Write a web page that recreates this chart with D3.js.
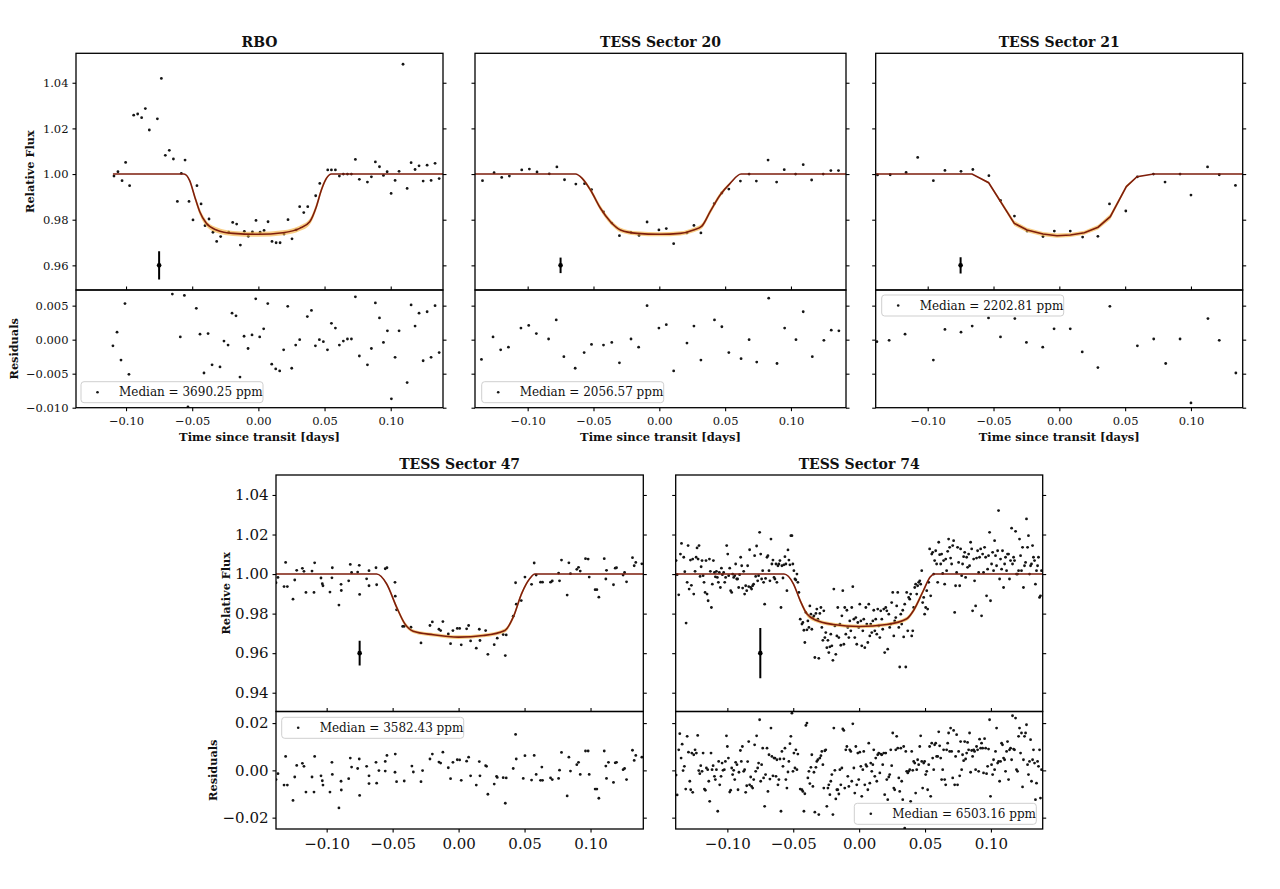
<!DOCTYPE html>
<html>
<head>
<meta charset="utf-8">
<script src="https://cdn.jsdelivr.net/npm/d3@7"></script>
<style>
  body { margin: 0; background: #fff; }
  text { font-family: "DejaVu Serif", serif; }
</style>
</head>
<body>
<div id="fig"></div>
<script>
// ---------- data ----------
const titles = ["RBO", "TESS Sector 20", "TESS Sector 21", "TESS Sector 47", "TESS Sector 74"];
const medianLabels = ["Median = 3690.25 ppm", "Median = 2056.57 ppm", "Median = 2202.81 ppm", "Median = 3582.43 ppm", "Median = 6503.16 ppm"];
const timeTicks = [-0.10, -0.05, 0.00, 0.05, 0.10];
const fluxTicksTop = [0.96, 0.98, 1.00, 1.02, 1.04];
const fluxTicksBottom = [0.94, 0.96, 0.98, 1.00, 1.02, 1.04];
const resTicksTop = [-0.010, -0.005, 0.000, 0.005];
const resTicksBottom = [-0.02, 0.00, 0.02];

// typical error bar per panel: [time, flux, error]
const errBars = [[-0.075, 0.96, 0.0062], [-0.075, 0.96, 0.0034], [-0.075, 0.96, 0.0036], [-0.075, 0.96, 0.0063], [-0.075, 0.96, 0.0127]];

// model curves: [time, flux, band half-width]
const rboModel = [[-0.1099,1,0],[-0.0562,1,0],[-0.0519,0.9971,0.0006],[-0.0481,0.9901,0.0012],[-0.0443,0.9835,0.0014],[-0.0393,0.9784,0.0013],[-0.0317,0.9755,0.0012],[-0.0191,0.9740,0.0011],[0,0.9736,0.0011],[0.0186,0.9743,0.0011],[0.0312,0.9762,0.0012],[0.0388,0.9791,0.0013],[0.0438,0.9857,0.0014],[0.0476,0.9930,0.0012],[0.0514,0.9981,0.0006],[0.0552,1,0],[0.1395,1,0]];
const s20Model = [[-0.1400,1,0],[-0.0636,1,0],[-0.0586,0.9981,0.0005],[-0.0523,0.9930,0.0010],[-0.0447,0.9850,0.0012],[-0.0371,0.9791,0.0011],[-0.0295,0.9755,0.0010],[-0.0169,0.9740,0.0009],[0,0.9736,0.0009],[0.0159,0.9740,0.0009],[0.0260,0.9755,0.0010],[0.0323,0.9772,0.0011],[0.0386,0.9835,0.0012],[0.0462,0.9908,0.0010],[0.0538,0.9959,0.0005],[0.0621,1,0],[0.1418,1,0]];
const s21Model = [[-0.1395,1,0],[-0.0663,1,0],[-0.0537,0.9962,0.0005],[-0.0342,0.9784,0.0011],[-0.0245,0.9755,0.0010],[-0.0124,0.9737,0.0009],[-0.0018,0.9730,0.0009],[0.0084,0.9733,0.0009],[0.0190,0.9743,0.0009],[0.0294,0.9767,0.0010],[0.0387,0.9813,0.0012],[0.0509,0.9945,0.0007],[0.0590,0.9988,0.0002],[0.0716,1,0],[0.1393,1,0]];
const s47Model = [[-0.1384,1,0],[-0.0621,1,0],[-0.0546,0.9951,0.0006],[-0.0470,0.9833,0.0012],[-0.0407,0.9748,0.0011],[-0.0344,0.9711,0.0009],[-0.0192,0.9693,0.0009],[0,0.9681,0.0009],[0.0186,0.9689,0.0009],[0.0351,0.9715,0.0010],[0.0414,0.9782,0.0012],[0.0477,0.9900,0.0011],[0.0540,0.9977,0.0005],[0.0578,1,0],[0.1400,1,0]];
const s74Model = [[-0.1392,1,0],[-0.0570,1,0],[-0.0499,0.9951,0.0006],[-0.0448,0.9867,0.0011],[-0.0397,0.9799,0.0012],[-0.0321,0.9765,0.0010],[-0.0195,0.9745,0.0009],[0,0.9735,0.0009],[0.0210,0.9745,0.0009],[0.0362,0.9774,0.0010],[0.0413,0.9816,0.0012],[0.0488,0.9917,0.0011],[0.0539,0.9985,0.0004],[0.0572,1,0],[0.1393,1,0]];

// observed flux: [time, flux]
const rboFlux = [[-0.1091,0.9991],[-0.1061,1.0010],[-0.1030,0.9971],[-0.1003,1.0051],[-0.0973,0.9949],[-0.0942,1.0258],[-0.0912,1.0263],[-0.0882,1.0247],[-0.0854,1.0287],[-0.0824,1.0193],[-0.0763,1.0242],[-0.0733,1.0419],[-0.0703,1.0082],[-0.0673,1.0104],[-0.0642,1.0066],[-0.0612,0.9880],[-0.0582,1.0003],[-0.0554,1.0061],[-0.0524,0.9880],[-0.0494,0.9799],[-0.0464,0.9949],[-0.0433,0.9869],[-0.0403,0.9774],[-0.0373,0.9803],[-0.0343,0.9745],[-0.0315,0.9705],[-0.0285,0.9726],[-0.0224,0.9745],[-0.0194,0.9788],[-0.0164,0.9781],[-0.0136,0.9689],[-0.0106,0.9749],[-0.0076,0.9727],[-0.0045,0.9746],[-0.0018,0.9797],[0.0013,0.9745],[0.0043,0.9753],[0.0073,0.9791],[0.0103,0.9705],[0.0134,0.9699],[0.0164,0.9699],[0.0194,0.9737],[0.0224,0.9800],[0.0254,0.9716],[0.0285,0.9755],[0.0312,0.9857],[0.0343,0.9831],[0.0373,0.9857],[0.0433,0.9905],[0.0464,0.9959],[0.0524,1.0018],[0.0552,1.0018],[0.0582,1.0018],[0.0612,0.9991],[0.0642,1.0000],[0.0673,1.0000],[0.0703,1.0000],[0.0733,1.0064],[0.0763,0.9977],[0.0824,0.9965],[0.0854,0.9988],[0.0884,1.0053],[0.0915,1.0032],[0.0945,0.9994],[0.0973,1.0010],[0.1003,0.9915],[0.1033,0.9972],[0.1063,1.0012],[0.1093,1.0481],[0.1124,0.9937],[0.1154,1.0050],[0.1184,1.0020],[0.1214,1.0036],[0.1245,0.9969],[0.1275,1.0039],[0.1305,0.9972],[0.1335,1.0047],[0.1366,0.9980]];
const rboRes = [[-0.1099,-0.0009],[-0.1068,0.0011],[-0.1038,-0.0030],[-0.1008,0.0053],[-0.0978,-0.0051],[-0.0650,0.0067],[-0.0590,0.0004],[-0.0559,0.0065],[-0.0532,-0.0099],[-0.0469,0.0046],[-0.0441,0.0008],[-0.0411,-0.0049],[-0.0380,0.0009],[-0.0350,-0.0037],[-0.0290,-0.0040],[-0.0260,-0.0002],[-0.0229,-0.0008],[-0.0199,0.0039],[-0.0169,0.0035],[-0.0139,-0.0055],[-0.0108,0.0005],[-0.0078,-0.0013],[-0.0048,0.0007],[-0.0020,0.0060],[0.0010,0.0004],[0.0040,0.0016],[0.0071,0.0053],[0.0101,-0.0036],[0.0131,-0.0043],[0.0161,-0.0046],[0.0191,-0.0015],[0.0222,0.0049],[0.0252,-0.0042],[0.0282,-0.0008],[0.0312,0.0000],[0.0370,0.0034],[0.0401,0.0043],[0.0431,-0.0009],[0.0461,0.0000],[0.0491,-0.0003],[0.0522,-0.0015],[0.0552,0.0024],[0.0582,0.0017],[0.0612,-0.0008],[0.0642,-0.0002],[0.0673,0.0001],[0.0703,0.0001],[0.0733,0.0063],[0.0763,-0.0024],[0.0824,-0.0037],[0.0854,-0.0013],[0.0884,0.0054],[0.0915,0.0032],[0.0945,-0.0004],[0.0975,0.0013],[0.1005,-0.0087],[0.1033,-0.0026],[0.1063,0.0013],[0.1124,-0.0063],[0.1154,0.0051],[0.1184,0.0020],[0.1214,0.0039],[0.1245,-0.0031],[0.1275,0.0041],[0.1305,-0.0026],[0.1335,0.0050],[0.1366,-0.0019]];

const s20Flux = [[-0.1343,0.9971],[-0.1255,1.0006],[-0.1197,0.9985],[-0.1139,0.9991],[-0.1045,1.0018],[-0.0987,1.0022],[-0.0929,1.0009],[-0.0836,1.0001],[-0.0778,1.0031],[-0.0720,0.9975],[-0.0634,0.9956],[-0.0568,0.9958],[-0.0515,0.9932],[-0.0424,0.9834],[-0.0361,0.9785],[-0.0303,0.9730],[-0.0215,0.9744],[-0.0154,0.9731],[-0.0093,0.9790],[-0.0003,0.9755],[0.0053,0.9761],[0.0109,0.9695],[0.0210,0.9742],[0.0263,0.9775],[0.0316,0.9742],[0.0417,0.9870],[0.0475,0.9917],[0.0528,0.9934],[0.0616,0.9969],[0.0682,1.0000],[0.0737,0.9969],[0.0826,1.0061],[0.0891,0.9965],[0.0949,1.0019],[0.1035,1.0000],[0.1093,1.0041],[0.1157,0.9974],[0.1245,1.0000],[0.1303,1.0015],[0.1361,1.0015]];
const s20Res = [[-0.1351,-0.0029],[-0.1263,0.0004],[-0.1205,-0.0015],[-0.1146,-0.0011],[-0.1051,0.0017],[-0.0992,0.0021],[-0.0934,0.0009],[-0.0841,0.0001],[-0.0783,0.0029],[-0.0725,-0.0025],[-0.0639,-0.0042],[-0.0571,-0.0019],[-0.0515,-0.0007],[-0.0424,-0.0008],[-0.0361,-0.0004],[-0.0303,-0.0034],[-0.0215,0.0001],[-0.0157,-0.0011],[-0.0093,0.0050],[-0.0003,0.0017],[0.0053,0.0022],[0.0109,-0.0046],[0.0210,-0.0005],[0.0263,0.0020],[0.0316,-0.0030],[0.0419,0.0029],[0.0475,0.0019],[0.0528,-0.0019],[0.0621,-0.0028],[0.0682,0.0000],[0.0740,-0.0033],[0.0831,0.0061],[0.0894,-0.0035],[0.0952,0.0017],[0.1038,0.0000],[0.1093,0.0041],[0.1162,-0.0025],[0.1250,-0.0001],[0.1306,0.0014],[0.1364,0.0013]];

const s21Flux = [[-0.1381,0.9996],[-0.1285,0.9997],[-0.1164,1.0007],[-0.1076,1.0073],[-0.0957,0.9971],[-0.0869,1.0016],[-0.0747,1.0012],[-0.0657,1.0020],[-0.0535,0.9993],[-0.0447,0.9884],[-0.0341,0.9816],[-0.0245,0.9750],[-0.0124,0.9726],[-0.0038,0.9750],[0.0083,0.9750],[0.0177,0.9724],[0.0293,0.9727],[0.0381,0.9869],[0.0505,0.9838],[0.0593,0.9988],[0.0715,1.0000],[0.0803,0.9965],[0.0917,1.0000],[0.1000,0.9908],[0.1126,1.0031],[0.1215,0.9997],[0.1338,0.9950]];
const s21Res = [[-0.1386,-0.0003],[-0.1293,-0.0001],[-0.1172,0.0008],[-0.0957,-0.0030],[-0.0869,0.0015],[-0.0747,0.0011],[-0.0662,0.0020],[-0.0538,0.0032],[-0.0447,0.0004],[-0.0338,0.0031],[-0.0250,-0.0004],[-0.0126,-0.0011],[-0.0040,0.0016],[0.0083,0.0016],[0.0174,-0.0018],[0.0293,-0.0041],[0.0384,0.0049],[0.0593,-0.0009],[0.0717,0.0001],[0.0808,-0.0035],[0.0917,0.0001],[0.1000,-0.0093],[0.1129,0.0031],[0.1215,-0.0001],[0.1341,-0.0049]];

const s47Flux = [[-0.1384,0.9956],[-0.1369,0.9983],[-0.1323,0.9937],[-0.1311,1.0059],[-0.1298,0.9937],[-0.1255,0.9873],[-0.1242,0.9970],[-0.1227,1.0019],[-0.1184,1.0029],[-0.1172,1.0014],[-0.1157,0.9907],[-0.1111,1.0015],[-0.1091,1.0057],[-0.1096,0.9907],[-0.1043,0.9980],[-0.1033,0.9951],[-0.1028,0.9941],[-0.0975,0.9909],[-0.0960,0.9981],[-0.0957,1.0032],[-0.0907,0.9843],[-0.0891,0.9948],[-0.0889,0.9917],[-0.0833,0.9966],[-0.0821,1.0049],[-0.0811,1.0008],[-0.0765,1.0010],[-0.0750,0.9897],[-0.0753,1.0044],[-0.0697,0.9976],[-0.0679,1.0017],[-0.0679,0.9941],[-0.0626,1.0032],[-0.0621,0.9946],[-0.0556,1.0027],[-0.0543,1.0032],[-0.0482,0.9958],[-0.0480,0.9888],[-0.0470,0.9819],[-0.0424,0.9735],[-0.0412,0.9736],[-0.0361,0.9731],[-0.0285,0.9652],[-0.0217,0.9740],[-0.0199,0.9758],[-0.0149,0.9721],[-0.0136,0.9714],[-0.0119,0.9760],[-0.0078,0.9697],[-0.0061,0.9648],[-0.0043,0.9714],[-0.0010,0.9725],[0.0008,0.9725],[0.0020,0.9642],[0.0061,0.9723],[0.0076,0.9740],[0.0091,0.9662],[0.0134,0.9625],[0.0157,0.9721],[0.0162,0.9664],[0.0205,0.9714],[0.0222,0.9594],[0.0270,0.9643],[0.0293,0.9676],[0.0338,0.9694],[0.0354,0.9588],[0.0361,0.9692],[0.0414,0.9787],[0.0432,0.9956],[0.0437,0.9848],[0.0475,0.9866],[0.0503,0.9985],[0.0553,0.9948],[0.0573,1.0056],[0.0588,0.9995],[0.0621,0.9959],[0.0636,0.9959],[0.0697,0.9959],[0.0710,0.9965],[0.0758,1.0005],[0.0765,0.9966],[0.0780,1.0071],[0.0823,0.9894],[0.0836,1.0057],[0.0848,1.0002],[0.0896,1.0024],[0.0909,1.0034],[0.0922,1.0015],[0.0962,1.0078],[0.0982,1.0076],[0.0990,0.9985],[0.1035,0.9921],[0.1048,0.9921],[0.1063,0.9883],[0.1104,1.0078],[0.1116,0.9975],[0.1121,1.0019],[0.1174,0.9946],[0.1187,1.0030],[0.1197,1.0032],[0.1247,0.9995],[0.1258,1.0008],[0.1273,0.9961],[0.1318,1.0083],[0.1331,1.0042],[0.1343,1.0059],[0.1389,1.0052]];
const s47Res = [[-0.1384,-0.0039],[-0.1369,-0.0014],[-0.1323,-0.0062],[-0.1311,0.0059],[-0.1298,-0.0062],[-0.1255,-0.0127],[-0.1242,-0.0028],[-0.1227,0.0021],[-0.1184,0.0030],[-0.1172,0.0017],[-0.1157,-0.0092],[-0.1111,-0.0028],[-0.1091,0.0059],[-0.1096,-0.0092],[-0.1043,-0.0023],[-0.1033,-0.0044],[-0.1028,-0.0062],[-0.0975,-0.0092],[-0.0960,0.0034],[-0.0957,-0.0017],[-0.0907,-0.0159],[-0.0891,-0.0046],[-0.0889,-0.0083],[-0.0833,-0.0035],[-0.0821,0.0052],[-0.0811,0.0014],[-0.0765,0.0008],[-0.0750,-0.0106],[-0.0753,0.0048],[-0.0697,0.0017],[-0.0679,-0.0056],[-0.0679,-0.0023],[-0.0626,0.0034],[-0.0621,-0.0054],[-0.0604,-0.0001],[-0.0556,0.0038],[-0.0543,0.0063],[-0.0556,-0.0003],[-0.0482,-0.0008],[-0.0480,0.0069],[-0.0470,-0.0048],[-0.0412,-0.0045],[-0.0354,0.0018],[-0.0343,-0.0007],[-0.0285,-0.0048],[-0.0273,-0.0001],[-0.0217,0.0048],[-0.0199,0.0069],[-0.0149,0.0035],[-0.0136,0.0031],[-0.0119,0.0077],[-0.0078,0.0011],[-0.0061,-0.0035],[-0.0043,0.0034],[-0.0010,0.0045],[0.0008,0.0044],[0.0020,-0.0042],[0.0061,0.0039],[0.0076,0.0056],[0.0091,-0.0023],[0.0134,-0.0062],[0.0157,0.0037],[0.0162,-0.0023],[0.0205,0.0020],[0.0212,0.0017],[0.0222,-0.0101],[0.0270,-0.0058],[0.0288,-0.0025],[0.0293,-0.0030],[0.0338,-0.0031],[0.0354,-0.0139],[0.0361,-0.0032],[0.0414,0.0008],[0.0432,0.0152],[0.0437,0.0048],[0.0490,-0.0034],[0.0503,0.0062],[0.0553,-0.0041],[0.0573,0.0063],[0.0588,-0.0017],[0.0621,-0.0042],[0.0636,-0.0042],[0.0631,0.0014],[0.0697,-0.0032],[0.0710,-0.0039],[0.0758,-0.0034],[0.0765,0.0001],[0.0780,0.0076],[0.0823,-0.0108],[0.0836,0.0056],[0.0848,-0.0003],[0.0896,0.0024],[0.0909,0.0034],[0.0922,-0.0017],[0.0962,0.0082],[0.0982,0.0082],[0.0990,-0.0017],[0.1035,-0.0079],[0.1048,-0.0079],[0.1063,-0.0118],[0.1104,0.0082],[0.1116,0.0018],[0.1121,-0.0034],[0.1136,0.0034],[0.1174,-0.0051],[0.1187,0.0032],[0.1197,0.0034],[0.1247,0.0003],[0.1258,0.0008],[0.1273,-0.0039],[0.1318,0.0085],[0.1331,0.0042],[0.1343,0.0063],[0.1389,0.0056]];

const s74Flux = [[-0.1389,1.0068],[-0.1381,0.9997],[-0.1369,0.9895],[-0.1356,1.0101],[-0.1348,1.0155],[-0.1331,1.0085],[-0.1323,1.0012],[-0.1313,0.9752],[-0.1305,0.9958],[-0.1298,1.0144],[-0.1290,0.9924],[-0.1280,1.0071],[-0.1273,0.9943],[-0.1263,1.0076],[-0.1255,0.9899],[-0.1245,1.0014],[-0.1237,1.0085],[-0.1230,1.0132],[-0.1222,1.0076],[-0.1215,1.0144],[-0.1207,0.9988],[-0.1199,1.0037],[-0.1192,1.0068],[-0.1184,0.9992],[-0.1177,0.9958],[-0.1169,0.9907],[-0.1162,1.0068],[-0.1154,0.9899],[-0.1146,0.9865],[-0.1136,1.0076],[-0.1129,1.0014],[-0.1121,0.9831],[-0.1114,0.9949],[-0.1106,1.0068],[-0.1098,1.0008],[-0.1091,0.9986],[-0.1083,1.0014],[-0.1076,0.9983],[-0.1068,0.9958],[-0.1061,1.0008],[-0.1053,0.9932],[-0.1045,1.0030],[-0.1038,0.9997],[-0.1028,1.0008],[-0.1020,0.9958],[-0.1013,0.9983],[-0.1005,1.0144],[-0.0997,1.0101],[-0.0990,0.9992],[-0.0982,1.0030],[-0.0975,0.9916],[-0.0967,0.9907],[-0.0960,1.0000],[-0.0952,0.9983],[-0.0944,0.9992],[-0.0937,1.0051],[-0.0929,0.9975],[-0.0922,0.9975],[-0.0914,0.9932],[-0.0907,0.9997],[-0.0899,1.0085],[-0.0891,1.0042],[-0.0884,0.9929],[-0.0876,1.0014],[-0.0869,0.9899],[-0.0861,0.9941],[-0.0853,0.9916],[-0.0846,1.0042],[-0.0838,0.9937],[-0.0831,1.0123],[-0.0823,0.9932],[-0.0816,0.9924],[-0.0808,0.9941],[-0.0801,0.9949],[-0.0793,1.0093],[-0.0785,0.9988],[-0.0778,1.0142],[-0.0770,0.9966],[-0.0763,0.9992],[-0.0755,1.0211],[-0.0747,1.0101],[-0.0740,0.9975],[-0.0732,1.0017],[-0.0725,0.9958],[-0.0717,0.9848],[-0.0710,0.9978],[-0.0699,1.0085],[-0.0692,1.0093],[-0.0684,1.0017],[-0.0677,0.9966],[-0.0669,1.0177],[-0.0662,1.0051],[-0.0654,1.0071],[-0.0646,0.9983],[-0.0639,0.9975],[-0.0631,1.0051],[-0.0624,0.9958],[-0.0616,1.0042],[-0.0609,1.0051],[-0.0601,1.0068],[-0.0593,0.9831],[-0.0586,1.0042],[-0.0578,0.9980],[-0.0571,1.0047],[-0.0563,1.0088],[-0.0556,1.0051],[-0.0548,0.9916],[-0.0540,1.0122],[-0.0533,1.0071],[-0.0525,1.0047],[-0.0518,1.0194],[-0.0510,1.0194],[-0.0503,1.0051],[-0.0495,1.0017],[-0.0487,0.9975],[-0.0480,0.9970],[-0.0472,1.0000],[-0.0465,0.9958],[-0.0457,0.9907],
[-0.0447,0.9772],[-0.0434,0.9747],[-0.0427,0.9755],[-0.0419,0.9716],[-0.0412,0.9654],[-0.0404,0.9806],[-0.0396,0.9718],[-0.0389,0.9763],[-0.0381,0.9730],[-0.0374,0.9839],[-0.0366,0.9797],[-0.0359,0.9721],[-0.0351,0.9780],[-0.0343,0.9789],[-0.0336,0.9578],[-0.0328,0.9801],[-0.0321,0.9823],[-0.0313,0.9772],[-0.0306,0.9574],[-0.0298,0.9801],[-0.0290,0.9831],[-0.0283,0.9730],[-0.0275,0.9665],[-0.0268,0.9814],[-0.0260,0.9679],[-0.0253,0.9704],[-0.0245,0.9628],[-0.0237,0.9665],[-0.0230,0.9603],[-0.0222,0.9632],[-0.0215,0.9696],[-0.0207,0.9637],[-0.0199,0.9564],[-0.0192,0.9924],[-0.0184,0.9738],[-0.0177,0.9594],[-0.0169,0.9687],[-0.0162,0.9831],[-0.0154,0.9679],[-0.0146,0.9747],[-0.0139,0.9640],[-0.0131,0.9789],[-0.0124,0.9916],[-0.0116,0.9645],[-0.0109,0.9831],[-0.0101,0.9696],[-0.0093,0.9817],[-0.0086,0.9730],[-0.0078,0.9679],[-0.0071,0.9763],[-0.0063,0.9713],[-0.0056,0.9831],[-0.0048,0.9936],[-0.0040,0.9772],[-0.0033,0.9679],[-0.0025,0.9780],[-0.0018,0.9645],[-0.0010,0.9755],[-0.0003,0.9730],[0.0005,0.9848],[0.0013,0.9763],[0.0020,0.9637],[0.0028,0.9713],[0.0035,0.9772],[0.0043,0.9628],[0.0051,0.9831],[0.0058,0.9747],[0.0066,0.9654],[0.0073,0.9848],[0.0081,0.9687],[0.0088,0.9747],[0.0096,0.9704],[0.0104,0.9763],[0.0111,0.9817],[0.0119,0.9713],[0.0126,0.9772],[0.0134,0.9696],[0.0141,0.9823],[0.0149,0.9738],[0.0157,0.9679],[0.0164,0.9814],[0.0172,0.9772],[0.0179,0.9721],[0.0187,0.9823],[0.0194,0.9603],[0.0202,0.9831],[0.0210,0.9814],[0.0217,0.9620],[0.0225,0.9797],[0.0232,0.9730],[0.0240,0.9747],[0.0247,0.9856],[0.0255,0.9907],[0.0263,0.9687],[0.0270,0.9763],[0.0278,0.9780],[0.0285,0.9839],[0.0293,0.9907],[0.0301,0.9730],[0.0308,0.9530],[0.0316,0.9797],[0.0323,0.9747],[0.0331,0.9817],[0.0338,0.9682],[0.0346,0.9848],[0.0354,0.9530],[0.0361,0.9907],[0.0369,0.9713],[0.0376,0.9882],[0.0384,0.9873],[0.0391,0.9899],[0.0399,0.9687],[0.0407,0.9713],[0.0414,0.9831],[0.0422,0.9932],[0.0429,0.9949],[0.0437,0.9899],[0.0444,0.9941],[0.0452,0.9958],[0.0460,0.9966],[0.0467,0.9949],[0.0475,1.0017],[0.0482,0.9856],[0.0490,0.9882],[0.0497,0.9797],[0.0505,0.9831],
[0.0513,0.9916],[0.0520,0.9823],[0.0528,0.9958],[0.0535,1.0127],[0.0543,0.9890],[0.0551,1.0101],[0.0558,1.0110],[0.0566,1.0000],[0.0573,1.0068],[0.0581,1.0118],[0.0588,1.0051],[0.0596,0.9958],[0.0604,1.0161],[0.0611,1.0098],[0.0619,1.0051],[0.0626,1.0101],[0.0634,1.0003],[0.0641,1.0068],[0.0649,0.9949],[0.0657,1.0076],[0.0664,1.0017],[0.0672,1.0115],[0.0679,1.0177],[0.0687,1.0135],[0.0694,1.0081],[0.0702,1.0051],[0.0710,1.0144],[0.0717,1.0169],[0.0725,0.9806],[0.0732,0.9941],[0.0740,1.0008],[0.0747,1.0135],[0.0755,1.0059],[0.0763,0.9941],[0.0770,1.0127],[0.0778,0.9992],[0.0785,1.0051],[0.0793,1.0088],[0.0801,1.0110],[0.0808,0.9983],[0.0816,1.0085],[0.0823,1.0034],[0.0831,1.0101],[0.0838,1.0042],[0.0846,1.0161],[0.0854,1.0127],[0.0861,0.9814],[0.0869,1.0076],[0.0876,0.9966],[0.0884,0.9839],[0.0891,1.0081],[0.0899,1.0118],[0.0907,1.0008],[0.0914,1.0085],[0.0922,1.0127],[0.0929,0.9789],[0.0937,1.0101],[0.0944,1.0008],[0.0952,1.0135],[0.0960,1.0085],[0.0967,0.9890],[0.0975,1.0025],[0.0982,1.0093],[0.0990,1.0211],[0.0997,0.9865],[0.1005,1.0051],[0.1013,1.0110],[0.1020,1.0017],[0.1028,1.0169],[0.1035,1.0093],[0.1043,1.0042],[0.1051,1.0118],[0.1058,1.0321],[0.1066,0.9975],[0.1073,1.0076],[0.1081,1.0025],[0.1088,1.0118],[0.1096,0.9932],[0.1104,1.0051],[0.1111,1.0085],[0.1119,1.0017],[0.1126,1.0101],[0.1134,1.0101],[0.1141,0.9975],[0.1149,1.0068],[0.1157,1.0232],[0.1164,1.0051],[0.1172,1.0085],[0.1179,1.0068],[0.1187,1.0216],[0.1194,1.0000],[0.1202,1.0000],[0.1210,1.0017],[0.1217,1.0177],[0.1225,1.0093],[0.1232,1.0017],[0.1240,1.0135],[0.1247,0.9932],[0.1255,1.0042],[0.1263,1.0059],[0.1270,1.0279],[0.1278,1.0135],[0.1285,1.0194],[0.1293,1.0000],[0.1301,1.0042],[0.1308,1.0051],[0.1316,1.0144],[0.1323,1.0085],[0.1331,1.0068],[0.1338,0.9949],[0.1346,1.0017],[0.1354,1.0042],[0.1361,1.0085],[0.1369,0.9882],[0.1376,0.9890],[0.1384,1.0017]];
const s74Res = [[-0.1389,-0.0020],[-0.1381,-0.0104],[-0.1369,0.0087],[-0.1361,0.0155],[-0.1351,0.0052],[-0.1343,0.0111],[-0.1336,-0.0001],[-0.1326,0.0017],[-0.1316,-0.0079],[-0.1305,0.0144],[-0.1295,0.0077],[-0.1285,-0.0046],[-0.1278,-0.0082],[-0.1270,0.0073],[-0.1263,-0.0093],[-0.1255,0.0066],[-0.1245,0.0087],[-0.1235,0.0073],[-0.1225,0.0148],[-0.1217,-0.0001],[-0.1209,-0.0014],[-0.1202,0.0020],[-0.1192,-0.0004],[-0.1184,0.0073],[-0.1174,-0.0079],[-0.1167,-0.0084],[-0.1159,0.0010],[-0.1149,0.0003],[-0.1141,-0.0046],[-0.1134,-0.0131],[-0.1124,0.0073],[-0.1116,0.0003],[-0.1108,0.0020],[-0.1098,-0.0025],[-0.1091,-0.0039],[-0.1083,0.0003],[-0.1073,-0.0173],[-0.1066,0.0038],[-0.1058,-0.0061],[-0.1048,-0.0025],[-0.1040,0.0031],[-0.1033,0.0000],[-0.1023,0.0003],[-0.1015,0.0038],[-0.1007,0.0146],[-0.1000,0.0101],[-0.0992,0.0052],[-0.0982,-0.0092],[-0.0975,-0.0084],[-0.0967,0.0010],[-0.0960,-0.0018],[-0.0952,0.0000],[-0.0944,-0.0039],[-0.0937,0.0034],[-0.0927,0.0024],[-0.0919,-0.0082],[-0.0912,-0.0008],[-0.0901,0.0084],[-0.0894,0.0038],[-0.0886,0.0101],[-0.0876,-0.0004],[-0.0869,0.0003],[-0.0861,-0.0093],[-0.0853,-0.0065],[-0.0846,0.0037],[-0.0838,0.0122],[-0.0831,-0.0061],[-0.0823,-0.0028],[-0.0816,-0.0068],[-0.0808,-0.0075],[-0.0800,-0.0039],[-0.0793,0.0108],[-0.0785,-0.0004],[-0.0778,0.0146],[-0.0770,0.0010],[-0.0763,0.0031],[-0.0755,0.0214],[-0.0747,-0.0046],[-0.0740,0.0024],[-0.0732,0.0094],[-0.0725,-0.0032],[-0.0717,-0.0152],[-0.0710,-0.0018],[-0.0699,0.0094],[-0.0692,-0.0089],[-0.0684,0.0066],[-0.0677,-0.0037],[-0.0669,0.0179],[-0.0662,0.0059],[-0.0654,-0.0023],[-0.0646,0.0052],[-0.0639,0.0052],[-0.0631,-0.0025],[-0.0624,0.0045],[-0.0616,-0.0061],[-0.0609,-0.0039],[-0.0601,0.0048],[-0.0593,-0.0173],[-0.0586,0.0080],[-0.0578,0.0017],[-0.0571,0.0049],[-0.0563,0.0094],[-0.0556,-0.0039],[-0.0548,-0.0075],[-0.0540,-0.0007],[-0.0533,0.0038],[-0.0525,0.0113],[-0.0518,0.0144],[-0.0510,0.0242],[-0.0502,-0.0004],[-0.0495,0.0073],[-0.0487,0.0010],[-0.0480,0.0087],[-0.0472,0.0003],[-0.0465,0.0069],
[-0.0447,-0.0079],[-0.0434,-0.0082],[-0.0427,-0.0089],[-0.0419,-0.0173],[-0.0412,-0.0099],[-0.0404,0.0190],[-0.0396,0.0200],[-0.0389,-0.0032],[-0.0381,-0.0004],[-0.0374,-0.0056],[-0.0366,0.0013],[-0.0359,0.0066],[-0.0351,-0.0068],[-0.0343,-0.0008],[-0.0336,-0.0177],[-0.0328,0.0013],[-0.0321,0.0038],[-0.0313,0.0045],[-0.0306,-0.0187],[-0.0298,0.0052],[-0.0290,0.0062],[-0.0283,0.0080],[-0.0275,0.0024],[-0.0268,-0.0075],[-0.0260,0.0083],[-0.0253,0.0087],[-0.0245,-0.0152],[-0.0237,-0.0075],[-0.0230,-0.0061],[-0.0222,-0.0103],[-0.0215,-0.0046],[-0.0207,-0.0018],[-0.0199,-0.0187],[-0.0192,0.0179],[-0.0184,0.0000],[-0.0177,-0.0121],[-0.0169,-0.0082],[-0.0162,-0.0082],[-0.0154,-0.0100],[-0.0146,0.0003],[-0.0139,-0.0061],[-0.0131,0.0010],[-0.0124,0.0175],[-0.0116,0.0169],[-0.0109,-0.0075],[-0.0101,0.0087],[-0.0093,0.0101],[-0.0086,-0.0025],[-0.0078,-0.0068],[-0.0071,0.0087],[-0.0063,0.0080],[-0.0056,-0.0046],[-0.0048,0.0197],[-0.0040,0.0010],[-0.0033,-0.0096],[-0.0025,0.0101],[-0.0018,-0.0061],[-0.0010,0.0073],[-0.0003,-0.0039],[0.0005,0.0077],[0.0013,0.0017],[0.0020,-0.0110],[0.0028,0.0003],[0.0035,0.0080],[0.0043,-0.0061],[0.0051,0.0024],[0.0058,0.0017],[0.0066,-0.0082],[0.0073,0.0115],[0.0081,-0.0054],[0.0088,0.0031],[0.0096,-0.0004],[0.0104,0.0024],[0.0111,0.0087],[0.0119,-0.0025],[0.0126,0.0052],[0.0134,-0.0046],[0.0141,0.0066],[0.0149,0.0073],[0.0157,-0.0011],[0.0164,0.0069],[0.0172,0.0066],[0.0179,0.0024],[0.0187,0.0073],[0.0194,-0.0103],[0.0202,0.0073],[0.0210,-0.0039],[0.0217,-0.0124],[0.0225,-0.0028],[0.0232,-0.0018],[0.0240,0.0087],[0.0247,0.0020],[0.0255,0.0158],[0.0263,-0.0075],[0.0270,-0.0082],[0.0278,0.0087],[0.0285,0.0144],[0.0293,0.0094],[0.0301,-0.0032],[0.0308,-0.0089],[0.0316,0.0094],[0.0323,-0.0046],[0.0331,-0.0124],[0.0338,0.0101],[0.0346,-0.0244],[0.0354,0.0080],[0.0361,-0.0004],[0.0369,-0.0011],[0.0376,-0.0004],[0.0384,0.0003],[0.0391,-0.0131],[0.0399,0.0080],[0.0407,0.0000],[0.0414,0.0038],[0.0422,0.0031],[0.0429,-0.0096],[0.0437,0.0003],[0.0444,0.0045],[0.0452,0.0024],[0.0460,0.0101],[0.0467,0.0146],[0.0475,0.0038],[0.0482,-0.0075],[0.0490,0.0031],[0.0497,0.0038],[0.0505,-0.0018],
[0.0513,-0.0004],[0.0520,-0.0082],[0.0528,0.0024],[0.0535,0.0101],[0.0543,-0.0110],[0.0551,0.0115],[0.0558,0.0052],[0.0566,0.0003],[0.0573,0.0108],[0.0581,0.0115],[0.0588,0.0059],[0.0596,0.0059],[0.0604,0.0163],[0.0611,0.0104],[0.0619,0.0052],[0.0626,-0.0039],[0.0634,0.0003],[0.0641,0.0087],[0.0649,-0.0039],[0.0657,-0.0061],[0.0664,0.0087],[0.0672,0.0115],[0.0679,0.0158],[0.0687,0.0080],[0.0694,0.0179],[0.0702,0.0080],[0.0710,-0.0032],[0.0717,0.0169],[0.0725,-0.0061],[0.0732,0.0059],[0.0740,0.0151],[0.0747,-0.0061],[0.0755,0.0080],[0.0763,-0.0023],[0.0770,0.0122],[0.0778,0.0003],[0.0785,0.0066],[0.0793,0.0041],[0.0801,0.0122],[0.0808,0.0048],[0.0816,0.0073],[0.0823,0.0118],[0.0831,0.0087],[0.0838,0.0158],[0.0846,-0.0008],[0.0854,0.0084],[0.0861,0.0059],[0.0869,0.0087],[0.0876,0.0080],[0.0884,0.0003],[0.0891,0.0101],[0.0899,0.0087],[0.0907,-0.0004],[0.0914,0.0132],[0.0922,0.0094],[0.0929,0.0115],[0.0937,0.0094],[0.0944,-0.0011],[0.0952,0.0134],[0.0960,0.0094],[0.0967,-0.0014],[0.0975,0.0017],[0.0982,0.0090],[0.0990,0.0214],[0.0997,-0.0110],[0.1005,0.0024],[0.1013,-0.0018],[0.1020,0.0045],[0.1028,0.0003],[0.1035,0.0080],[0.1043,0.0179],[0.1051,0.0031],[0.1058,0.0038],[0.1066,-0.0046],[0.1073,0.0038],[0.1081,0.0115],[0.1088,0.0108],[0.1096,0.0052],[0.1104,0.0045],[0.1111,-0.0004],[0.1119,0.0080],[0.1126,0.0122],[0.1134,-0.0039],[0.1141,0.0087],[0.1149,0.0094],[0.1157,0.0045],[0.1164,0.0231],[0.1172,0.0090],[0.1179,0.0087],[0.1187,0.0221],[0.1194,0.0003],[0.1202,-0.0004],[0.1210,0.0144],[0.1217,0.0179],[0.1225,0.0073],[0.1232,0.0158],[0.1240,-0.0070],[0.1247,0.0045],[0.1255,0.0144],[0.1263,0.0158],[0.1270,0.0193],[0.1278,0.0024],[0.1285,-0.0018],[0.1293,0.0038],[0.1301,0.0130],[0.1308,-0.0046],[0.1316,0.0045],[0.1323,0.0087],[0.1331,0.0031],[0.1338,-0.0124],[0.1346,-0.0054],[0.1354,0.0038],[0.1361,0.0017],[0.1369,0.0087],[0.1376,-0.0117],[0.1384,0.0003]];

// ---------- layout ----------
const topRow = { top: 53.3, div: 290, bot: 407.7, fDom: [0.9492, 1.0529], rDom: [-0.010, 0.0073],
  fTicks: fluxTicksTop, rTicks: resTicksTop, rFmt: ".3f", tickFont: 11.5, dot: 1.4 };
const botRow = { top: 475, div: 711.5, bot: 829, fDom: [0.9305, 1.0501], rDom: [-0.0248, 0.0249],
  fTicks: fluxTicksBottom, rTicks: resTicksBottom, rFmt: ".2f", tickFont: 15, dot: 1.4 };

const panels = [
  Object.assign({}, topRow, { x0: 76, x1: 443, xDom: [-0.1378, 0.1395], flux: rboFlux, res: rboRes, model: rboModel, curve: d3.curveMonotoneX, yLabels: true, xLabel: true, legend: [81, 381.7] }),
  Object.assign({}, topRow, { x0: 475, x1: 846, xDom: [-0.1400, 0.1418], flux: s20Flux, res: s20Res, model: s20Model, curve: d3.curveMonotoneX, yLabels: false, xLabel: true, legend: [481.7, 381.7] }),
  Object.assign({}, topRow, { x0: 875.7, x1: 1242.7, xDom: [-0.1395, 0.1393], flux: s21Flux, res: s21Res, model: s21Model, curve: d3.curveLinear, yLabels: false, xLabel: true, legend: [881.7, 295] }),
  Object.assign({}, botRow, { x0: 276, x1: 643.3, xDom: [-0.1384, 0.1400], flux: s47Flux, res: s47Res, model: s47Model, curve: d3.curveMonotoneX, yLabels: true, xLabel: false, legend: [281.7, 717.3] }),
  Object.assign({}, botRow, { x0: 675.7, x1: 1042.7, xDom: [-0.1392, 0.1393], flux: s74Flux, res: s74Res, model: s74Model, curve: d3.curveMonotoneX, yLabels: false, xLabel: false, legend: [854.3, 803.3] })
];

const svg = d3.select("#fig").append("svg")
  .attr("width", 1280)
  .attr("height", 889)
  .style("background", "#fff");
const defs = svg.append("defs");

function styleAxis(sel, size) {
  sel.select(".domain").remove();
  sel.selectAll("line").attr("stroke", "#000").attr("stroke-width", 1.1);
  sel.selectAll("text").attr("font-size", size).attr("font-family", "DejaVu Serif, serif").attr("fill", "#111");
}

panels.forEach(function(p, i) {
  const x = d3.scaleLinear().domain(p.xDom).range([p.x0, p.x1]);
  const yF = d3.scaleLinear().domain(p.fDom).range([p.div, p.top]);
  const yR = d3.scaleLinear().domain(p.rDom).range([p.bot, p.div]);
  const g = svg.append("g");
  const w = p.x1 - p.x0;

  defs.append("clipPath").attr("id", "ct" + i).append("rect")
    .attr("x", p.x0).attr("y", p.top).attr("width", w).attr("height", p.div - p.top);
  defs.append("clipPath").attr("id", "cb" + i).append("rect")
    .attr("x", p.x0).attr("y", p.div).attr("width", w).attr("height", p.bot - p.div);

  // ---- flux panel ----
  const top = g.append("g").attr("clip-path", `url(#ct${i})`);
  top.selectAll("circle.pt")
    .data(p.flux)
    .join("circle")
      .attr("class", "pt")
      .attr("cx", d => x(d[0]))
      .attr("cy", d => yF(d[1]))
      .attr("r", p.dot)
      .attr("fill", "#151515");

  top.append("path")
    .datum(p.model)
    .attr("d", d3.area().x(d => x(d[0])).y0(d => yF(d[1] - d[2])).y1(d => yF(d[1] + d[2])).curve(p.curve))
    .attr("fill", "#f6b444")
    .attr("opacity", 0.65);
  top.append("path")
    .datum(p.model)
    .attr("d", d3.line().x(d => x(d[0])).y(d => yF(d[1])).curve(p.curve))
    .attr("fill", "none")
    .attr("stroke", "#7e1e0c")
    .attr("stroke-width", 1.6);

  // typical error bar
  const eb = errBars[i];
  top.append("line")
    .attr("x1", x(eb[0])).attr("x2", x(eb[0]))
    .attr("y1", yF(eb[1] - eb[2])).attr("y2", yF(eb[1] + eb[2]))
    .attr("stroke", "#000").attr("stroke-width", 2);
  top.append("circle").attr("cx", x(eb[0])).attr("cy", yF(eb[1])).attr("r", 2.3).attr("fill", "#000");

  // ---- residual panel ----
  const bot = g.append("g").attr("clip-path", `url(#cb${i})`);
  bot.selectAll("circle.pt")
    .data(p.res)
    .join("circle")
      .attr("class", "pt")
      .attr("cx", d => x(d[0]))
      .attr("cy", d => yR(d[1]))
      .attr("r", p.dot)
      .attr("fill", "#151515");

  // ---- axes ----
  const fmtF = d3.format(".2f"), fmtR = d3.format(p.rFmt), fmtX = d3.format(".2f");
  g.append("g").attr("transform", `translate(${p.x0},0)`)
    .call(d3.axisLeft(yF).tickValues(p.fTicks).tickSize(3.5).tickPadding(4).tickFormat(p.yLabels ? fmtF : ""))
    .call(s => styleAxis(s, p.tickFont));
  g.append("g").attr("transform", `translate(${p.x1},0)`)
    .call(d3.axisRight(yF).tickValues(p.fTicks).tickSize(3.5).tickFormat(""))
    .call(s => styleAxis(s, p.tickFont));
  g.append("g").attr("transform", `translate(${p.x0},0)`)
    .call(d3.axisLeft(yR).tickValues(p.rTicks).tickSize(3.5).tickPadding(4).tickFormat(p.yLabels ? fmtR : ""))
    .call(s => styleAxis(s, p.tickFont));
  g.append("g").attr("transform", `translate(${p.x1},0)`)
    .call(d3.axisRight(yR).tickValues(p.rTicks).tickSize(3.5).tickFormat(""))
    .call(s => styleAxis(s, p.tickFont));
  g.append("g").attr("transform", `translate(0,${p.div})`)
    .call(d3.axisTop(x).tickValues(timeTicks).tickSize(3.5).tickFormat(""))
    .call(s => styleAxis(s, p.tickFont));
  g.append("g").attr("transform", `translate(0,${p.bot})`)
    .call(d3.axisBottom(x).tickValues(timeTicks).tickSize(3.5).tickPadding(6).tickFormat(fmtX))
    .call(s => styleAxis(s, p.tickFont));

  // frames
  g.append("rect").attr("x", p.x0).attr("y", p.top).attr("width", w).attr("height", p.div - p.top)
    .attr("fill", "none").attr("stroke", "#000").attr("stroke-width", 1.3);
  g.append("rect").attr("x", p.x0).attr("y", p.div).attr("width", w).attr("height", p.bot - p.div)
    .attr("fill", "none").attr("stroke", "#000").attr("stroke-width", 1.3);

  // legend
  const lg = g.append("g").attr("transform", `translate(${p.legend[0]},${p.legend[1]})`);
  lg.append("rect").attr("width", 182).attr("height", 21).attr("rx", 3)
    .attr("fill", "#fff").attr("fill-opacity", 0.8).attr("stroke", "#cfcfcf").attr("stroke-width", 1);
  lg.append("circle").attr("cx", 16.5).attr("cy", 10.5).attr("r", 1.3).attr("fill", "#151515");
  lg.append("text").attr("x", 38).attr("y", 14.6).attr("font-size", 12).attr("fill", "#111").text(medianLabels[i]);

  // title
  g.append("text")
    .attr("x", (p.x0 + p.x1) / 2).attr("y", p.top - 6.5)
    .attr("text-anchor", "middle").attr("font-size", 14).attr("font-weight", "bold").attr("fill", "#111")
    .text(titles[i]);

  if (p.yLabels) {
    const fx = i === 0 ? 30 : 226, rx = i === 0 ? 14 : 213;
    g.append("text")
      .attr("transform", `translate(${fx + 4},${(p.top + p.div) / 2}) rotate(-90)`)
      .attr("text-anchor", "middle").attr("font-size", 11.3).attr("font-weight", "bold").attr("fill", "#111")
      .text("Relative Flux");
    g.append("text")
      .attr("transform", `translate(${rx + 4},${(p.div + p.bot) / 2}) rotate(-90)`)
      .attr("text-anchor", "middle").attr("font-size", 11.3).attr("font-weight", "bold").attr("fill", "#111")
      .text("Residuals");
  }
  if (p.xLabel) {
    g.append("text")
      .attr("x", (p.x0 + p.x1) / 2).attr("y", p.bot + 33)
      .attr("text-anchor", "middle").attr("font-size", 11.5).attr("font-weight", "bold").attr("fill", "#111")
      .text("Time since transit [days]");
  }
});
</script>
</body>
</html>
